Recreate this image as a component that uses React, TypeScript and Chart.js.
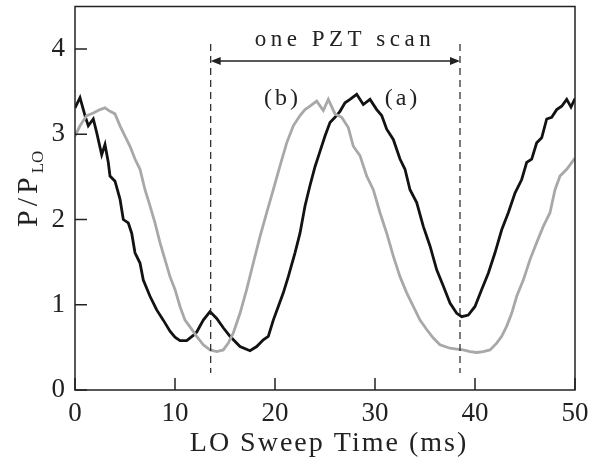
import React, { useEffect, useRef } from "react";
import { Chart, registerables } from "chart.js";

Chart.register(...registerables);

// ---- data ----
const xRange = [0, 50];
const yRange = [0, 4.5];
const xTicks = [0, 10, 20, 30, 40, 50];
const yTicks = [0, 1, 2, 3, 4];

const blackX = [0, 0.5, 1.0, 1.33, 1.83, 2.17, 2.67, 3.0, 3.33, 3.5, 4.0, 4.5, 4.83, 5.33, 5.67, 6.0, 6.5, 6.83, 7.5, 8.17, 8.83, 9.5, 10.0, 10.5, 11.17, 11.83, 12.17, 12.83, 13.5, 14.17, 14.83, 15.5, 16.5, 17.5, 18.17, 18.83, 19.33, 19.83, 20.33, 20.83, 21.33, 22.0, 22.5, 23.0, 23.5, 24.0, 24.5, 25.0, 25.5, 26.0, 26.5, 27.0, 27.5, 28.17, 28.83, 29.5, 30.17, 30.67, 31.17, 31.83, 32.5, 33.0, 33.5, 34.17, 34.83, 35.5, 36.17, 36.83, 37.5, 38.17, 38.67, 39.33, 40.0, 40.67, 41.33, 42.0, 42.67, 43.33, 44.0, 44.67, 45.17, 45.67, 46.17, 46.67, 47.17, 47.67, 48.17, 48.67, 49.17, 49.6, 50];
const blackY = [3.31, 3.43, 3.22, 3.10, 3.18, 3.02, 2.76, 2.88, 2.67, 2.51, 2.45, 2.24, 2.0, 1.96, 1.84, 1.61, 1.49, 1.29, 1.10, 0.94, 0.82, 0.69, 0.62, 0.58, 0.58, 0.64, 0.68, 0.82, 0.92, 0.84, 0.73, 0.63, 0.51, 0.46, 0.51, 0.59, 0.63, 0.82, 0.98, 1.14, 1.33, 1.61, 1.84, 2.16, 2.40, 2.62, 2.80, 2.98, 3.14, 3.2, 3.27, 3.37, 3.41, 3.47, 3.35, 3.41, 3.29, 3.22, 3.06, 2.94, 2.71, 2.59, 2.35, 2.2, 1.92, 1.69, 1.41, 1.22, 1.02, 0.9, 0.86, 0.88, 0.98, 1.18, 1.37, 1.61, 1.88, 2.08, 2.31, 2.47, 2.67, 2.71, 2.9, 2.96, 3.18, 3.2, 3.29, 3.33, 3.41, 3.32, 3.42];

const grayX = [0, 0.5, 1.17, 1.83, 2.5, 3.0, 3.5, 4.0, 4.5, 5.0, 5.5, 6.0, 6.5, 7.0, 7.5, 8.0, 8.5, 9.0, 9.5, 10.0, 10.5, 11.0, 11.5, 12.17, 12.83, 13.5, 14.17, 14.83, 15.33, 15.83, 16.5, 17.17, 17.83, 18.5, 19.17, 19.83, 20.5, 21.17, 21.83, 22.5, 23.0, 23.5, 24.17, 24.83, 25.33, 26.0, 26.67, 27.33, 27.83, 28.5, 29.17, 29.83, 30.5, 31.17, 31.83, 32.5, 33.17, 33.83, 34.5, 35.17, 35.83, 36.5, 37.5, 38.17, 38.83, 39.5, 40.17, 40.83, 41.5, 42.17, 42.67, 43.17, 43.67, 44.17, 44.83, 45.5, 46.17, 46.83, 47.5, 48.0, 48.5, 49.17, 50];
const grayY = [2.98, 3.10, 3.22, 3.25, 3.29, 3.31, 3.27, 3.24, 3.10, 2.98, 2.86, 2.71, 2.59, 2.35, 2.16, 1.96, 1.73, 1.53, 1.33, 1.18, 0.98, 0.82, 0.74, 0.63, 0.53, 0.47, 0.45, 0.47, 0.55, 0.67, 0.90, 1.18, 1.49, 1.80, 2.08, 2.35, 2.63, 2.90, 3.10, 3.22, 3.29, 3.33, 3.39, 3.28, 3.41, 3.24, 3.2, 3.08, 2.86, 2.75, 2.51, 2.35, 2.08, 1.84, 1.57, 1.33, 1.14, 0.98, 0.82, 0.71, 0.61, 0.53, 0.49, 0.48, 0.47, 0.45, 0.44, 0.45, 0.47, 0.55, 0.63, 0.75, 0.90, 1.1, 1.29, 1.53, 1.73, 1.92, 2.08, 2.35, 2.51, 2.59, 2.72];

const scanStart = 13.57;
const scanEnd = 38.5;
const arrowLevel = 3.86;
const dashTop = 4.06;
const dashBottom = 0.2;
const scanLabel = "one PZT scan";
const scanLabelLevel = 4.04; // baseline
const labelB = { text: "(b)", x: 20.75, y: 3.35 };
const labelA = { text: "(a)", x: 32.75, y: 3.35 };
const xTitle = "LO Sweep Time (ms)";
const yTitleMain = "P/P";
const yTitleSub = "LO";

const FONT = "'Liberation Serif', 'Times New Roman', serif";
const INK = "#222";

const decorPlugin = {
  id: "decor",
  afterDraw(chart: any) {
    const { ctx, chartArea } = chart;
    const xs = chart.scales.x;
    const ys = chart.scales.y;
    const { left, right, top, bottom } = chartArea;
    ctx.save();
    // frame
    ctx.strokeStyle = INK;
    ctx.lineWidth = 1.5;
    ctx.strokeRect(left, top, right - left, bottom - top);
    // inward ticks
    ctx.beginPath();
    xTicks.forEach((v) => {
      const px = xs.getPixelForValue(v);
      ctx.moveTo(px, bottom);
      ctx.lineTo(px, bottom - 12);
    });
    yTicks.forEach((v) => {
      const py = ys.getPixelForValue(v);
      ctx.moveTo(left, py);
      ctx.lineTo(left + 12, py);
    });
    ctx.stroke();

    // dashed lines
    ctx.lineWidth = 1.2;
    ctx.setLineDash([7, 5]);
    [scanStart, scanEnd].forEach((v) => {
      const px = xs.getPixelForValue(v);
      ctx.beginPath();
      ctx.moveTo(px, ys.getPixelForValue(dashTop));
      ctx.lineTo(px, ys.getPixelForValue(dashBottom));
      ctx.stroke();
    });
    ctx.setLineDash([]);

    // arrow
    const ax1 = xs.getPixelForValue(scanStart);
    const ax2 = xs.getPixelForValue(scanEnd);
    const ay = ys.getPixelForValue(arrowLevel);
    ctx.lineWidth = 1.5;
    ctx.beginPath();
    ctx.moveTo(ax1 + 6, ay);
    ctx.lineTo(ax2 - 6, ay);
    ctx.stroke();
    ctx.fillStyle = INK;
    ctx.beginPath();
    ctx.moveTo(ax1, ay);
    ctx.lineTo(ax1 + 10, ay - 4);
    ctx.lineTo(ax1 + 10, ay + 4);
    ctx.closePath();
    ctx.fill();
    ctx.beginPath();
    ctx.moveTo(ax2, ay);
    ctx.lineTo(ax2 - 10, ay - 4);
    ctx.lineTo(ax2 - 10, ay + 4);
    ctx.closePath();
    ctx.fill();

    // texts
    ctx.fillStyle = INK;
    ctx.textAlign = "center";
    ctx.textBaseline = "alphabetic";
    ctx.font = `23px ${FONT}`;
    (ctx as any).letterSpacing = "4.5px";
    ctx.fillText(scanLabel, 345, ys.getPixelForValue(scanLabelLevel));
    ctx.font = `24px ${FONT}`;
    (ctx as any).letterSpacing = "3px";
    ctx.fillText(labelB.text, xs.getPixelForValue(labelB.x), ys.getPixelForValue(labelB.y));
    ctx.fillText(labelA.text, xs.getPixelForValue(labelA.x), ys.getPixelForValue(labelA.y));

    // x title
    ctx.font = `28px ${FONT}`;
    (ctx as any).letterSpacing = "2px";
    ctx.fillText(xTitle, (left + right) / 2 + 4, 451);

    // y title (reads bottom to top)
    ctx.translate(37, 227);
    ctx.rotate(-Math.PI / 2);
    ctx.textAlign = "left";
    ctx.font = `30px ${FONT}`;
    (ctx as any).letterSpacing = "4px";
    ctx.fillText(yTitleMain, 0, 0);
    const mw = ctx.measureText(yTitleMain).width;
    ctx.font = `17px ${FONT}`;
    (ctx as any).letterSpacing = "0px";
    ctx.fillText(yTitleSub, mw, 6);
    ctx.restore();
  },
};

export default function App() {
  const ref = useRef<HTMLCanvasElement | null>(null);
  useEffect(() => {
    if (!ref.current) return;
    const zeroPad = (s: any) => {
      s.paddingTop = 0;
      s.paddingBottom = 0;
      s.paddingLeft = 0;
      s.paddingRight = 0;
    };
    const chart = new Chart(ref.current, {
      type: "scatter",
      data: {
        datasets: [
          {
            label: "(b)",
            data: grayX.map((x, i) => ({ x, y: grayY[i] })),
            showLine: true,
            borderColor: "#a8a8a8",
            borderWidth: 2.8,
            pointRadius: 0,
            tension: 0,
          },
          {
            label: "(a)",
            data: blackX.map((x, i) => ({ x, y: blackY[i] })),
            showLine: true,
            borderColor: "#121212",
            borderWidth: 2.8,
            pointRadius: 0,
            tension: 0,
          },
        ],
      },
      options: {
        animation: false,
        responsive: true,
        maintainAspectRatio: false,
        layout: { padding: { left: 0, right: 27, top: 6.5, bottom: 0 } },
        plugins: { legend: { display: false }, tooltip: { enabled: false } },
        scales: {
          x: {
            type: "linear",
            min: xRange[0],
            max: xRange[1],
            grid: { display: false, drawTicks: false },
            border: { display: false },
            afterBuildTicks: (s: any) => {
              s.ticks = xTicks.map((v) => ({ value: v }));
            },
            afterFit: (s: any) => {
              s.height = 70;
              zeroPad(s);
            },
            ticks: {
              padding: 8,
              color: INK,
              font: { family: FONT, size: 27 },
              maxRotation: 0,
            },
          },
          y: {
            type: "linear",
            min: yRange[0],
            max: yRange[1],
            grid: { display: false, drawTicks: false },
            border: { display: false },
            afterBuildTicks: (s: any) => {
              s.ticks = yTicks.map((v) => ({ value: v }));
            },
            afterFit: (s: any) => {
              s.width = 75;
              zeroPad(s);
            },
            ticks: {
              padding: 10,
              color: INK,
              font: { family: FONT, size: 27 },
            },
          },
        },
      },
      plugins: [decorPlugin],
    });
    return () => chart.destroy();
  }, []);
  return (
    <div style={{ position: "absolute", left: 0, top: 0, width: 602, height: 460, background: "#fff" }}>
      <canvas ref={ref} />
    </div>
  );
}
